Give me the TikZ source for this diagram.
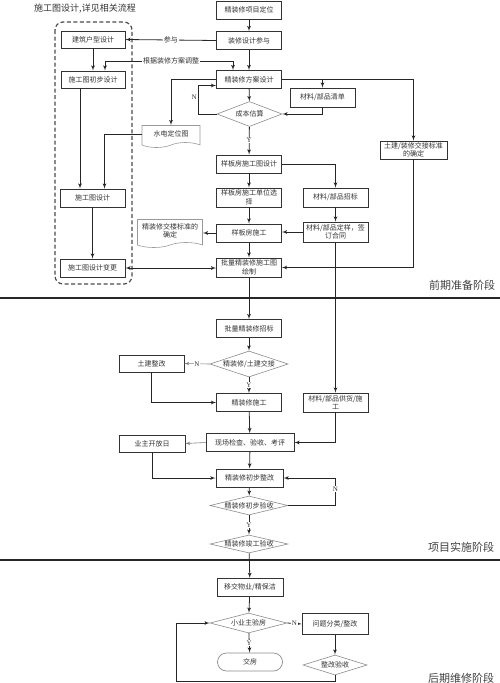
\documentclass[tikz,border=0pt]{standalone}
\usepackage{fontspec}
\setmainfont{Liberation Serif}
\newfontfamily\cjk{Noto Sans CJK SC}
\usetikzlibrary{arrows,shapes.geometric,shapes.symbols}

\begin{document}
\begin{tikzpicture}[
			x=1pt, y=-1pt,
			>=latex',
			font=\cjk\fontsize{7}{8.5}\selectfont,
			task/.style={
				rectangle,
				draw=black!80,
				line width=0.7pt,
				text=black!80,
				align=center,
				minimum width=65,
				minimum height=18,
				inner sep=1pt,
				fill=white
			},
			check/.style={
				diamond,
				aspect=5,
				draw=black!45,
				line width=0.6pt,
				text=black!80,
				inner sep=0pt,
				text height=5pt,
				text depth=0pt,
				fill=white
			},
			doc/.style={
				tape,
				tape bend top=none,
				tape bend bottom=in and out,
				tape bend height=5pt,
				draw=black!40,
				line width=0.6pt,
				text=black!80,
				align=center,
				minimum width=58,
				inner sep=1pt,
				fill=white
			},
			yn/.style={
				font=\rmfamily\fontsize{7}{8}\selectfont,
				text=black!80,
				fill=white,
				inner sep=0.5pt
			},
			phase/.style={
				font=\cjk\fontsize{11}{13}\selectfont,
				text=black!75
			},
			link/.style={draw=black!85, line width=0.8pt},
			faint/.style={draw=black!50, line width=0.6pt}
			]
			\useasboundingbox (0,0) rectangle (500,683);
			
			% stage borders
			\draw [black!85, line width=1.8pt] (0,298) -- (500,298);
			\draw [black!85, line width=1.8pt] (0,560) -- (500,560);
			\node [phase] (ph1) at (462,285) {前期准备阶段};
			\node [phase] (ph2) at (461,547) {项目实施阶段};
			\node [phase] (ph3) at (461,678) {后期维修阶段};
			
			% drawing work, own flow
			\node [font=\cjk\fontsize{9}{10}\selectfont, text=black!80] (title) at (85,9) {施工图设计,详见相关流程};
			\draw [black!70, line width=1.2pt, dash pattern=on 4pt off 2.5pt, rounded corners=8pt] (55,22) rectangle (132,284);
			
			\node [task, minimum width=64, minimum height=17] (arch) at (93,39.5) {建筑户型设计};
			\node [task, minimum width=64, minimum height=17] (draft) at (93,79.5) {施工图初步设计};
			\node [task] (cd) at (92.5,198) {施工图设计};
			\node [task] (change) at (92.5,268) {施工图设计变更};
			
			% main column
			\node [task] (pos) at (249,10) {精装修项目定位};
			\node [task] (join) at (249,40.5) {装修设计参与};
			\node [task] (scheme) at (249,79.5) {精装修方案设计};
			\node [check, minimum width=65, minimum height=25] (cost) at (249.5,114) {成本估算};
			\node [task] (proto) at (249,164) {样板房施工图设计};
			\node [task, minimum height=19] (unit) at (249,197.5) {样板房施工单位选\\择};
			\node [task] (build) at (249,233) {样板房施工};
			\node [task, minimum height=19] (plot) at (249,267.5) {批量精装修施工图\\绘制};
			\node [task] (tender) at (249,328.5) {批量精装修招标};
			\node [check, minimum width=78, minimum height=26] (handover) at (249,364) {精装修/土建交接};
			\node [task] (fitout) at (249,402.5) {精装修施工};
			\node [task, minimum width=88] (inspect) at (250,442.5) {现场检查、验收、考评};
			\node [task, minimum width=67, line width=1pt] (rectify) at (249.5,478) {精装修初步整改};
			\node [check, minimum width=78, minimum height=19] (prelim) at (249,505.5) {精装修初步验收};
			\node [check, minimum width=78, minimum height=18] (final) at (249,544) {精装修竣工验收};
			\node [task, minimum width=66, line width=1pt] (transfer) at (250,587.5) {移交物业/精保洁};
			\node [check, minimum width=77, minimum height=20] (owner) at (248.5,623) {小业主验房};
			\node [task, draw=black!45, rounded corners=9pt] (deliver) at (250,662) {交房};
			
			% side blocks
			\node [doc, minimum height=22] (wiring) at (171,134) {水电定位图};
			\node [doc, minimum width=65, minimum height=28] (stddoc) at (170,231) {精装修交楼标准的\\确定};
			\node [task, minimum height=19] (bom) at (322.5,97.5) {材料/部品清单};
			\node [task, minimum width=67] (std) at (413.5,150) {土建/装修交接标准\\的确定};
			\node [task, minimum height=19] (mtender) at (335.5,197.5) {材料/部品招标};
			\node [task, minimum height=20] (sample) at (335.5,232) {材料/部品定样，签\\订合同};
			\node [task, minimum height=19] (supply) at (335.5,402.5) {材料/部品供货/施\\工};
			\node [task, minimum height=17] (civil) at (151.5,363.5) {土建整改};
			\node [task, minimum width=66, minimum height=17] (open) at (152,443.5) {业主开放日};
			\node [task, minimum width=66, minimum height=21] (issue) at (335,624) {问题分类/整改};
			\node [check, minimum width=64, minimum height=20] (recheck) at (335,665) {整改验收};
			\coordinate (loopcorner) at (176,681);
			
			% connectors, first stage
			\draw [link,->] (pos) -- (join);
			\draw [link,->] (join) -- (scheme);
			\draw [link,->] (join.west) -- node [yn, fill=white, inner sep=1pt, font=\cjk\fontsize{7}{8}\selectfont] {参与} (arch.east);
			\node [fill=white, inner sep=1pt, text=black!80] (adjust) at (171,61) {根据装修方案调整};
			\draw [link,->] (adjust.west) -| ([xshift=12pt]draft.north);
			\draw [link,->] (adjust.east) -| ([xshift=-16pt]scheme.north);
			\draw [link,->] (arch) -- (draft);
			\draw [link,->] ([xshift=-13pt]draft.south) -- ([xshift=-13pt]draft.south |- cd.north);
			\draw [link,->] (cd) -- (change);
			\draw [link,->] (scheme.west) -| (wiring.north);
			\draw [link,->] (wiring.west) -| ([xshift=12pt]cd.north);
			\draw [link,->] (scheme) -- (cost);
			\draw [link,->] (cost.west) -- ++(-18,0) |- node [yn, pos=0.3, left=1pt, fill=none] {N} ([yshift=-6pt]scheme.west);
			\draw [link,->] (scheme.east) -| (std.north);
			\draw [link,->] (scheme.east -| bom.north) -- (bom.north);
			\draw [link,->] (bom.south) |- (cost.east);
			\draw [link,->] (cost) -- node [yn] {Y} (proto);
			\draw [link,->] (proto) -- (unit);
			\draw [link,->] (unit) -- (build);
			\draw [link,->] (build) -- (plot);
			\draw [link,->] (proto.east) -| (mtender.north);
			\draw [link,->] (mtender) -- (sample);
			\draw [link,->] (sample.west) -- (sample.west -| build.east);
			\draw [link,->] (build.west) -- (build.west -| stddoc.east);
			\draw [link,->] (std.south) |- (plot.east);
			\draw [link,<->] (change.east) -- (change.east -| plot.west);
			
			% connectors, second stage
			\draw [link,->] (plot) -- (tender);
			\draw [link,->] (sample.south) -- (supply.north);
			\draw [link,->] (tender) -- (handover);
			\draw [link,->] (handover) -- node [yn] {Y} (fitout);
			\draw [faint,->] (handover.west) -- node [yn] {N} (civil.east);
			\draw [link,->] (civil.south) |- (fitout.west);
			\draw [link,->] (fitout) -- (inspect);
			\draw [link,->] (supply.south) |- (inspect.east);
			\draw [faint,->] (inspect.west) -- (open.east);
			\draw [link,->] (open.south) |- (rectify.west);
			\draw [link,->] (inspect) -- (rectify);
			\draw [link,->] (rectify) -- (prelim);
			\draw [link,->] (prelim.east) -- ++(47,0) |- node [yn, pos=0.3] {N} (rectify.east);
			\draw [link,->] (prelim) -- node [yn] {Y} (final);
			
			% connectors, third stage
			\draw [link,->] (final) -- (transfer);
			\draw [link,->] (transfer) -- (owner);
			\draw [link,->] (owner) -- node [yn] {Y} (deliver);
			\draw [link,->] (owner.east) -- node [yn] {N} (issue.west);
			\draw [link,->] (issue) -- (recheck);
			\draw [link,->] (recheck.south) |- (loopcorner) |- (owner.west);
			
\end{tikzpicture}
\end{document}
